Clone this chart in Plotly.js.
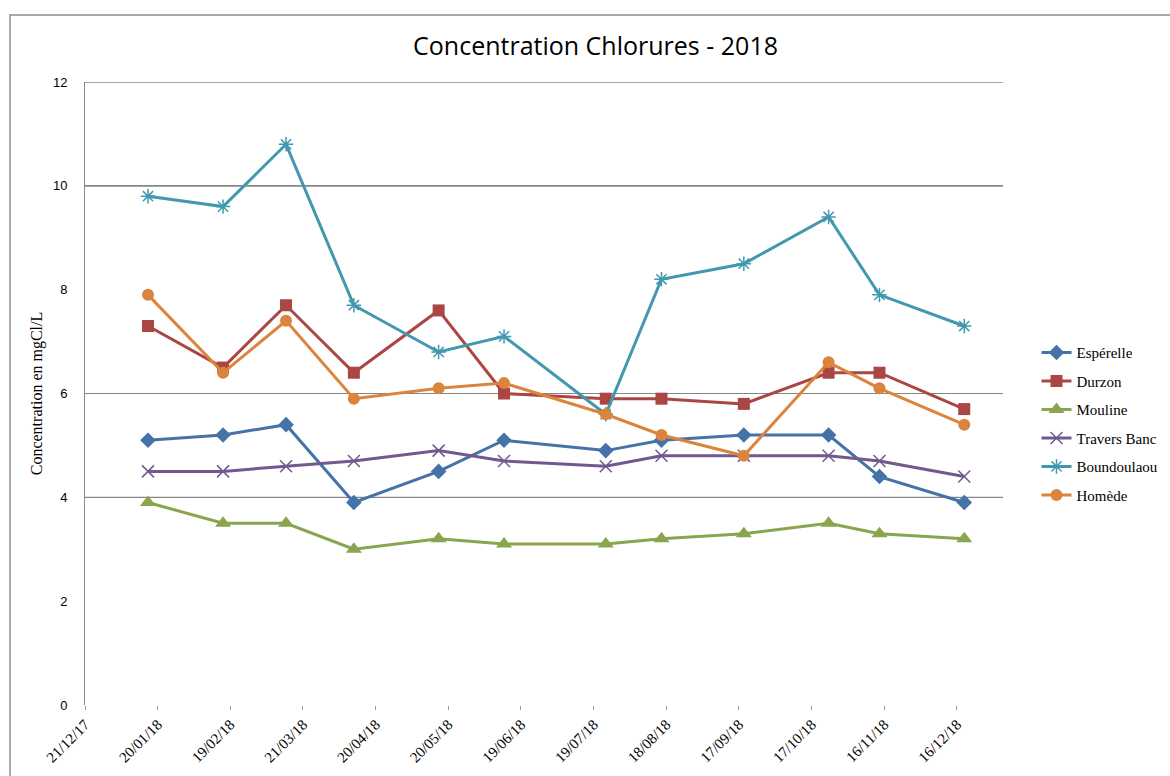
<!DOCTYPE html>
<html>
<head>
<meta charset="utf-8">
<script src="https://cdn.plot.ly/plotly-3.0.1.min.js"></script>
<style>html,body{margin:0;padding:0;background:#fff}#chart{width:1170px;height:776px}</style>
</head>
<body>
<div id="chart"></div>
<script>
const dates = ['2018-01-16','2018-02-16','2018-03-14','2018-04-11','2018-05-16','2018-06-12','2018-07-24','2018-08-16','2018-09-19','2018-10-24','2018-11-14','2018-12-19'];
const esperelle   = [5.1, 5.2, 5.4, 3.9, 4.5, 5.1, 4.9, 5.1, 5.2, 5.2, 4.4, 3.9];
const durzon      = [7.3, 6.5, 7.7, 6.4, 7.6, 6.0, 5.9, 5.9, 5.8, 6.4, 6.4, 5.7];
const mouline     = [3.9, 3.5, 3.5, 3.0, 3.2, 3.1, 3.1, 3.2, 3.3, 3.5, 3.3, 3.2];
const traversBanc = [4.5, 4.5, 4.6, 4.7, 4.9, 4.7, 4.6, 4.8, 4.8, 4.8, 4.7, 4.4];
const boundoulaou = [9.8, 9.6, 10.8, 7.7, 6.8, 7.1, 5.6, 8.2, 8.5, 9.4, 7.9, 7.3];
const homede      = [7.9, 6.4, 7.4, 5.9, 6.1, 6.2, 5.6, 5.2, 4.8, 6.6, 6.1, 5.4];
const tickDates = ['2017-12-21','2018-01-20','2018-02-19','2018-03-21','2018-04-20','2018-05-20','2018-06-19','2018-07-19','2018-08-18','2018-09-17','2018-10-17','2018-11-16','2018-12-16'];
const tickLabels = ['21/12/17','20/01/18','19/02/18','21/03/18','20/04/18','20/05/18','19/06/18','19/07/18','18/08/18','17/09/18','17/10/18','16/11/18','16/12/18'];
const gridLevels = [4, 6, 10, 12];

function tr(name, y, color, symbol, size, lw) {
  return {
    x: dates, y: y, name: name, type: 'scatter', mode: 'lines+markers',
    legendgroup: name,
    line: {color: color, width: 3},
    marker: {color: color, symbol: symbol, size: size, line: {color: color, width: lw || 0}}
  };
}
const data = [
  tr('Espérelle', esperelle, '#4572A7', 'diamond', 12),
  tr('Durzon', durzon, '#AA4643', 'square', 12),
  tr('Mouline', mouline, '#89A54E', 'triangle-up', 14),
  tr('Travers Banc', traversBanc, '#71588F', 'x-thin-open', 12, 1.5),
  tr('Boundoulaou', boundoulaou, '#4198AF', 'asterisk-open', 12, 1.5),
  tr('Homède', homede, '#DB843D', 'circle', 12)
];

const shapes = gridLevels.map(v => ({
  type: 'line', xref: 'paper', yref: 'y', x0: 0, x1: 1, y0: v, y1: v,
  line: {color: '#868686', width: v >= 10 ? 1.6 : 1.1}, layer: 'below'
}));
shapes.push({type: 'rect', xref: 'paper', yref: 'paper', x0: -0.0817, x1: 1.2, y0: -0.13, y1: 1.1075,
  line: {color: '#8c8c8c', width: 1.5}, fillcolor: 'rgba(0,0,0,0)'});

const layout = {
  width: 1170, height: 776,
  margin: {l: 85, r: 167, t: 82, b: 71, autoexpand: false},
  paper_bgcolor: '#fff', plot_bgcolor: '#fff',
  title: {text: 'Concentration Chlorures - 2018', font: {family: 'Open Sans, sans-serif', size: 25, color: '#000'},
    x: 0.509, xref: 'container', xanchor: 'center', y: 0.941, yref: 'container', yanchor: 'middle'},
  xaxis: {
    type: 'date', range: ['2017-12-21', '2019-01-04'],
    tickmode: 'array', tickvals: tickDates, ticktext: tickLabels, tickangle: -45,
    ticks: 'outside', ticklen: 4, tickcolor: '#999', tickwidth: 1,
    showgrid: false, zeroline: false, showline: false,
    tickfont: {family: 'Liberation Serif, serif', size: 15, color: '#000'}
  },
  yaxis: {
    range: [0, 12], tickvals: [0, 2, 4, 6, 8, 10, 12], showgrid: false, zeroline: false,
    showline: true, linecolor: '#888', linewidth: 1, ticks: '', ticklabelstandoff: 14,
    tickfont: {family: 'Liberation Sans, Arial, sans-serif', size: 13, color: '#000'},
    title: {text: 'Concentration en mgCl/L', font: {family: 'Liberation Serif, serif', size: 16, color: '#000'}, standoff: 6}
  },
  legend: {x: 1.0365, xanchor: 'left', y: 0.592, yanchor: 'top', tracegroupgap: 6,
    font: {family: 'Liberation Serif, serif', size: 15, color: '#000'}, bgcolor: 'rgba(0,0,0,0)'},
  shapes: shapes,
  showlegend: true
};
Plotly.newPlot('chart', data, layout, {displayModeBar: false, staticPlot: true});
</script>
</body>
</html>
